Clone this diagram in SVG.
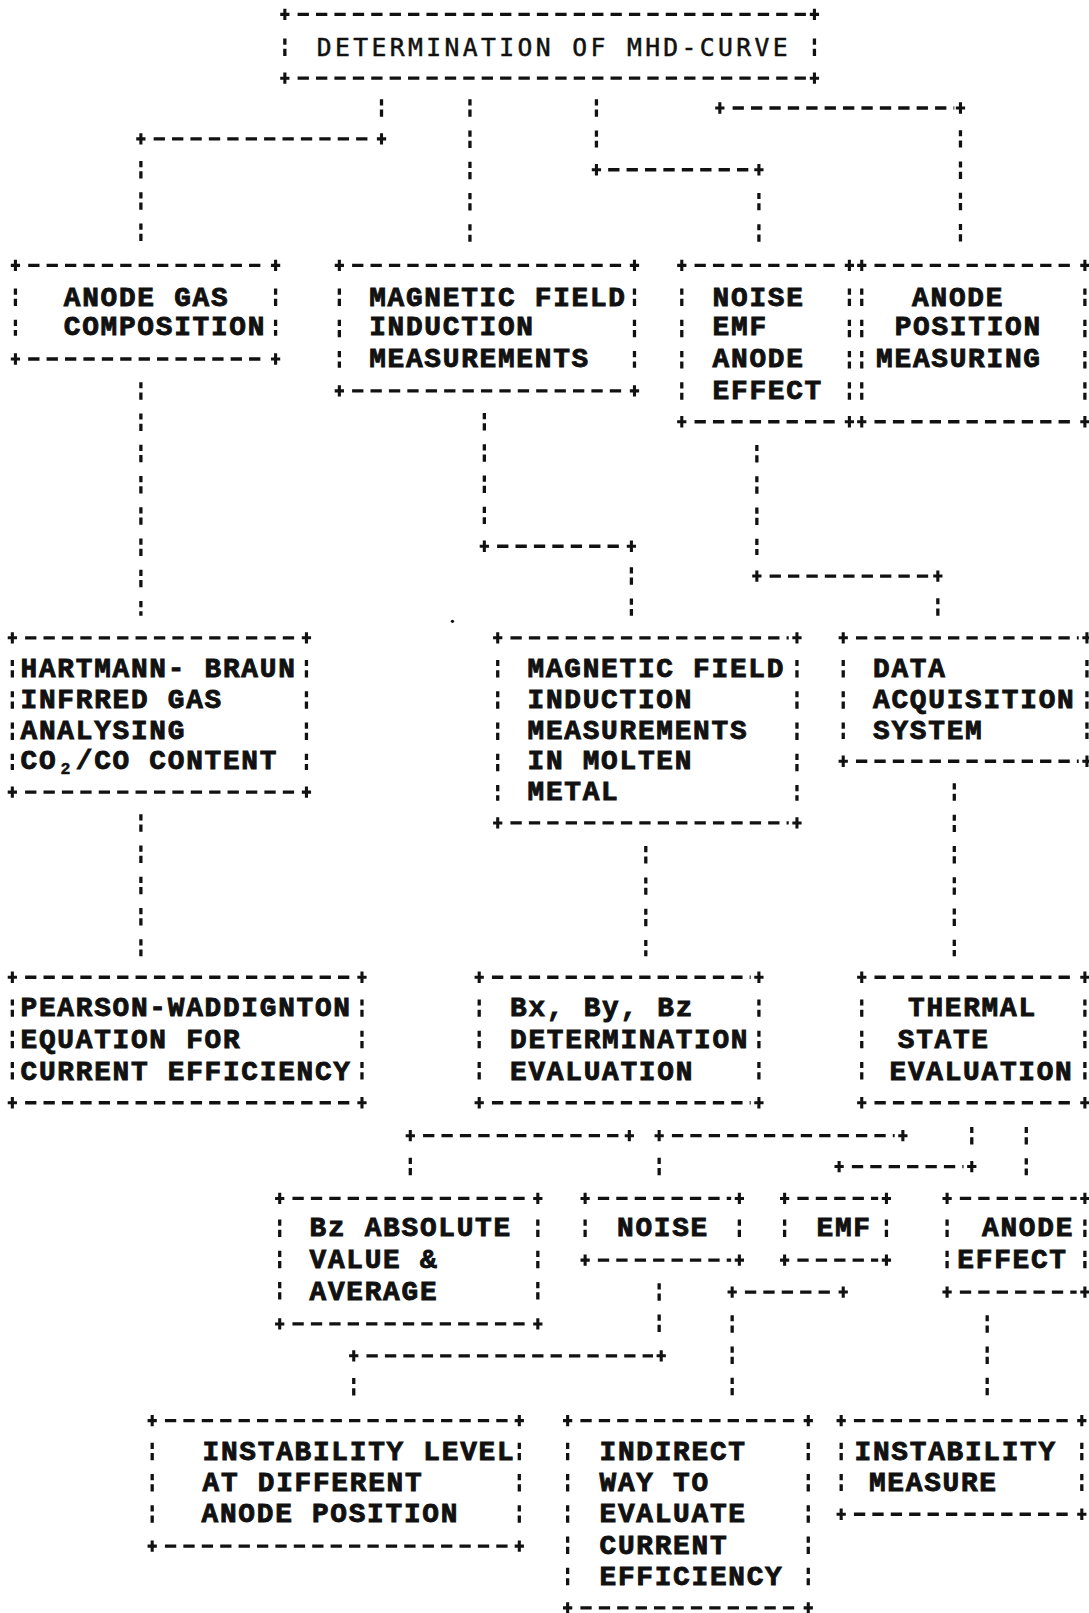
<svg xmlns="http://www.w3.org/2000/svg" xmlns:xlink="http://www.w3.org/1999/xlink" width="1089" height="1613" viewBox="0 0 1089 1613">
<style>
.h{stroke:#111;stroke-width:3.2;stroke-dasharray:11 6.9;fill:none}
.v{stroke:#111;stroke-width:3.2;stroke-dasharray:6 4 7 13.4;fill:none}
.t{font-family:"Liberation Mono","Courier New",monospace;font-weight:bold;font-size:27px;letter-spacing:1.7px;fill:#111;stroke:#111;stroke-width:0.9}
.tt{font-family:"DejaVu Sans Mono","Liberation Mono",monospace;font-size:24px;letter-spacing:3.3px;fill:#111;stroke:#111;stroke-width:0.5}
.s{font-family:"Liberation Mono","Courier New",monospace;font-weight:bold;font-size:16px;fill:#111;stroke:#111;stroke-width:0.5}
</style>
<defs>
<path id="p" d="M-4.5,0H4.5M0,-5.5V5.5" stroke="#111" stroke-width="3" fill="none"/>
</defs>
<rect width="1089" height="1613" fill="#fff"/>
<g transform="scale(1.02833,1.0287)">

<g id="n-title">
<line class="h" x1="289.4" y1="14" x2="784" y2="14"/>
<line class="h" x1="289.4" y1="76" x2="784" y2="76"/>
<line class="v" x1="277" y1="37.5" x2="277" y2="54.5"/>
<line class="v" x1="792" y1="37.5" x2="792" y2="54.5"/>
<use href="#p" x="277" y="14"/><use href="#p" x="792" y="14"/><use href="#p" x="277" y="76"/><use href="#p" x="792" y="76"/>
<text class="tt" x="308" y="54">DETERMINATION OF MHD-CURVE</text>
</g>

<g id="n-anode-gas">
<line class="h" x1="27.4" y1="258" x2="260" y2="258"/>
<line class="h" x1="27.4" y1="349" x2="260" y2="349"/>
<line class="v" x1="15" y1="280.5" x2="15" y2="326.5"/>
<line class="v" x1="268" y1="280.5" x2="268" y2="326.5"/>
<use href="#p" x="15" y="258"/><use href="#p" x="268" y="258"/><use href="#p" x="15" y="349"/><use href="#p" x="268" y="349"/>
<text class="t" x="62" y="297">ANODE GAS</text>
<text class="t" x="62" y="326">COMPOSITION</text>
</g>

<g id="n-magnetic-field">
<line class="h" x1="342.4" y1="258" x2="609" y2="258"/>
<line class="h" x1="342.4" y1="380" x2="609" y2="380"/>
<line class="v" x1="330" y1="280.5" x2="330" y2="357.5"/>
<line class="v" x1="617" y1="280.5" x2="617" y2="357.5"/>
<use href="#p" x="330" y="258"/><use href="#p" x="617" y="258"/><use href="#p" x="330" y="380"/><use href="#p" x="617" y="380"/>
<text class="t" x="359" y="297">MAGNETIC FIELD</text>
<text class="t" x="359" y="326">INDUCTION</text>
<text class="t" x="359" y="357">MEASUREMENTS</text>
</g>

<g id="n-noise-emf">
<line class="h" x1="675.4" y1="258" x2="818" y2="258"/>
<line class="h" x1="675.4" y1="410" x2="818" y2="410"/>
<line class="v" x1="663" y1="280.5" x2="663" y2="388.5"/>
<line class="v" x1="826" y1="280.5" x2="826" y2="388.5"/>
<use href="#p" x="663" y="258"/><use href="#p" x="826" y="258"/><use href="#p" x="663" y="410"/><use href="#p" x="826" y="410"/>
<text class="t" x="693" y="297">NOISE</text>
<text class="t" x="693" y="326">EMF</text>
<text class="t" x="693" y="357">ANODE</text>
<text class="t" x="693" y="388">EFFECT</text>
</g>

<g id="n-anode-position">
<line class="h" x1="850.4" y1="258" x2="1047" y2="258"/>
<line class="h" x1="850.4" y1="410" x2="1047" y2="410"/>
<line class="v" x1="838" y1="280.5" x2="838" y2="388.5"/>
<line class="v" x1="1055" y1="280.5" x2="1055" y2="388.5"/>
<use href="#p" x="838" y="258"/><use href="#p" x="1055" y="258"/><use href="#p" x="838" y="410"/><use href="#p" x="1055" y="410"/>
<text class="t" x="887" y="297">ANODE</text>
<text class="t" x="870" y="326">POSITION</text>
<text class="t" x="852" y="357">MEASURING</text>
</g>

<g id="n-hartmann">
<line class="h" x1="24.4" y1="620" x2="290" y2="620"/>
<line class="h" x1="24.4" y1="770" x2="290" y2="770"/>
<line class="v" x1="12" y1="641.5" x2="12" y2="748.5"/>
<line class="v" x1="298" y1="641.5" x2="298" y2="748.5"/>
<use href="#p" x="12" y="620"/><use href="#p" x="298" y="620"/><use href="#p" x="12" y="770"/><use href="#p" x="298" y="770"/>
<text class="t" x="20" y="658">HARTMANN- BRAUN</text>
<text class="t" x="20" y="688">INFRRED GAS</text>
<text class="t" x="20" y="718">ANALYSING</text>
<text class="t" x="20" y="748">CO</text>
<text class="s" x="63.6" y="752" text-anchor="middle">2</text>
<text class="t" x="73.7" y="748">/CO CONTENT</text>
</g>

<g id="n-magnetic-molten">
<line class="h" x1="496.4" y1="620" x2="767" y2="620"/>
<line class="h" x1="496.4" y1="800" x2="767" y2="800"/>
<line class="v" x1="484" y1="641.5" x2="484" y2="778.5"/>
<line class="v" x1="775" y1="641.5" x2="775" y2="778.5"/>
<use href="#p" x="484" y="620"/><use href="#p" x="775" y="620"/><use href="#p" x="484" y="800"/><use href="#p" x="775" y="800"/>
<text class="t" x="513" y="658">MAGNETIC FIELD</text>
<text class="t" x="513" y="688">INDUCTION</text>
<text class="t" x="513" y="718">MEASUREMENTS</text>
<text class="t" x="513" y="748">IN MOLTEN</text>
<text class="t" x="513" y="778">METAL</text>
</g>

<g id="n-data-acquisition">
<line class="h" x1="832.4" y1="620" x2="1049" y2="620"/>
<line class="h" x1="832.4" y1="740" x2="1049" y2="740"/>
<line class="v" x1="820" y1="641.5" x2="820" y2="718.5"/>
<line class="v" x1="1057" y1="641.5" x2="1057" y2="718.5"/>
<use href="#p" x="820" y="620"/><use href="#p" x="1057" y="620"/><use href="#p" x="820" y="740"/><use href="#p" x="1057" y="740"/>
<text class="t" x="849" y="658">DATA</text>
<text class="t" x="849" y="688">ACQUISITION</text>
<text class="t" x="849" y="718">SYSTEM</text>
</g>

<g id="n-pearson">
<line class="h" x1="24.4" y1="950" x2="344" y2="950"/>
<line class="h" x1="24.4" y1="1072" x2="344" y2="1072"/>
<line class="v" x1="12" y1="971.5" x2="12" y2="1050.5"/>
<line class="v" x1="352" y1="971.5" x2="352" y2="1050.5"/>
<use href="#p" x="12" y="950"/><use href="#p" x="352" y="950"/><use href="#p" x="12" y="1072"/><use href="#p" x="352" y="1072"/>
<text class="t" x="20" y="988">PEARSON-WADDIGNTON</text>
<text class="t" x="20" y="1019">EQUATION FOR</text>
<text class="t" x="20" y="1050">CURRENT EFFICIENCY</text>
</g>

<g id="n-bxbybz">
<line class="h" x1="478.4" y1="950" x2="730" y2="950"/>
<line class="h" x1="478.4" y1="1072" x2="730" y2="1072"/>
<line class="v" x1="466" y1="971.5" x2="466" y2="1050.5"/>
<line class="v" x1="738" y1="971.5" x2="738" y2="1050.5"/>
<use href="#p" x="466" y="950"/><use href="#p" x="738" y="950"/><use href="#p" x="466" y="1072"/><use href="#p" x="738" y="1072"/>
<text class="t" x="496" y="988">Bx, By, Bz</text>
<text class="t" x="496" y="1019">DETERMINATION</text>
<text class="t" x="496" y="1050">EVALUATION</text>
</g>

<g id="n-thermal">
<line class="h" x1="850.4" y1="950" x2="1047" y2="950"/>
<line class="h" x1="850.4" y1="1072" x2="1047" y2="1072"/>
<line class="v" x1="838" y1="971.5" x2="838" y2="1050.5"/>
<line class="v" x1="1055" y1="971.5" x2="1055" y2="1050.5"/>
<use href="#p" x="838" y="950"/><use href="#p" x="1055" y="950"/><use href="#p" x="838" y="1072"/><use href="#p" x="1055" y="1072"/>
<text class="t" x="883" y="988">THERMAL</text>
<text class="t" x="873" y="1019">STATE</text>
<text class="t" x="865" y="1050">EVALUATION</text>
</g>

<g id="n-bz-absolute">
<line class="h" x1="284.4" y1="1165" x2="515" y2="1165"/>
<line class="h" x1="284.4" y1="1287" x2="515" y2="1287"/>
<line class="v" x1="272" y1="1185.5" x2="272" y2="1264.5"/>
<line class="v" x1="523" y1="1185.5" x2="523" y2="1264.5"/>
<use href="#p" x="272" y="1165"/><use href="#p" x="523" y="1165"/><use href="#p" x="272" y="1287"/><use href="#p" x="523" y="1287"/>
<text class="t" x="301" y="1202">Bz ABSOLUTE</text>
<text class="t" x="301" y="1233">VALUE &amp;</text>
<text class="t" x="301" y="1264">AVERAGE</text>
</g>

<g id="n-noise">
<line class="h" x1="581.4" y1="1165" x2="711" y2="1165"/>
<line class="h" x1="581.4" y1="1225" x2="711" y2="1225"/>
<line class="v" x1="569" y1="1185.5" x2="569" y2="1202.5"/>
<line class="v" x1="719" y1="1185.5" x2="719" y2="1202.5"/>
<use href="#p" x="569" y="1165"/><use href="#p" x="719" y="1165"/><use href="#p" x="569" y="1225"/><use href="#p" x="719" y="1225"/>
<text class="t" x="600" y="1202">NOISE</text>
</g>

<g id="n-emf">
<line class="h" x1="775.4" y1="1165" x2="854" y2="1165"/>
<line class="h" x1="775.4" y1="1225" x2="854" y2="1225"/>
<line class="v" x1="763" y1="1185.5" x2="763" y2="1202.5"/>
<line class="v" x1="862" y1="1185.5" x2="862" y2="1202.5"/>
<use href="#p" x="763" y="1165"/><use href="#p" x="862" y="1165"/><use href="#p" x="763" y="1225"/><use href="#p" x="862" y="1225"/>
<text class="t" x="794" y="1202">EMF</text>
</g>

<g id="n-anode-effect">
<line class="h" x1="933.4" y1="1165" x2="1047" y2="1165"/>
<line class="h" x1="933.4" y1="1256" x2="1047" y2="1256"/>
<line class="v" x1="921" y1="1185.5" x2="921" y2="1233.5"/>
<line class="v" x1="1055" y1="1185.5" x2="1055" y2="1233.5"/>
<use href="#p" x="921" y="1165"/><use href="#p" x="1055" y="1165"/><use href="#p" x="921" y="1256"/><use href="#p" x="1055" y="1256"/>
<text class="t" x="955" y="1202">ANODE</text>
<text class="t" x="931" y="1233">EFFECT</text>
</g>

<g id="n-instability-level">
<line class="h" x1="160.4" y1="1381" x2="497" y2="1381"/>
<line class="h" x1="160.4" y1="1503" x2="497" y2="1503"/>
<line class="v" x1="148" y1="1402.5" x2="148" y2="1480.5"/>
<line class="v" x1="505" y1="1402.5" x2="505" y2="1480.5"/>
<use href="#p" x="148" y="1381"/><use href="#p" x="505" y="1381"/><use href="#p" x="148" y="1503"/><use href="#p" x="505" y="1503"/>
<text class="t" x="197" y="1419">INSTABILITY LEVEL</text>
<text class="t" x="197" y="1449">AT DIFFERENT</text>
<text class="t" x="196" y="1480">ANODE POSITION</text>
</g>

<g id="n-indirect">
<line class="h" x1="564.4" y1="1381" x2="778" y2="1381"/>
<line class="h" x1="564.4" y1="1563" x2="778" y2="1563"/>
<line class="v" x1="552" y1="1402.5" x2="552" y2="1541.5"/>
<line class="v" x1="786" y1="1402.5" x2="786" y2="1541.5"/>
<use href="#p" x="552" y="1381"/><use href="#p" x="786" y="1381"/><use href="#p" x="552" y="1563"/><use href="#p" x="786" y="1563"/>
<text class="t" x="583" y="1419">INDIRECT</text>
<text class="t" x="583" y="1449">WAY TO</text>
<text class="t" x="583" y="1480">EVALUATE</text>
<text class="t" x="583" y="1511">CURRENT</text>
<text class="t" x="583" y="1541">EFFICIENCY</text>
</g>

<g id="n-instability-measure">
<line class="h" x1="830.4" y1="1381" x2="1044" y2="1381"/>
<line class="h" x1="830.4" y1="1472" x2="1044" y2="1472"/>
<line class="v" x1="818" y1="1402.5" x2="818" y2="1449.5"/>
<line class="v" x1="1052" y1="1402.5" x2="1052" y2="1449.5"/>
<use href="#p" x="818" y="1381"/><use href="#p" x="1052" y="1381"/><use href="#p" x="818" y="1472"/><use href="#p" x="1052" y="1472"/>
<text class="t" x="831" y="1419">INSTABILITY</text>
<text class="t" x="845" y="1449">MEASURE</text>
</g>

<g id="connectors">
<line class="v" x1="371" y1="96.5" x2="371" y2="113.5"/>
<line class="h" x1="149.4" y1="135" x2="363" y2="135"/>
<use href="#p" x="137" y="135"/><use href="#p" x="371" y="135"/>
<line class="v" x1="137" y1="156.5" x2="137" y2="235.5"/>

<line class="v" x1="457" y1="96.5" x2="457" y2="235.5"/>

<line class="v" x1="580" y1="96.5" x2="580" y2="143.5"/>
<line class="h" x1="591.4" y1="165" x2="730" y2="165"/>
<use href="#p" x="580" y="165"/><use href="#p" x="738" y="165"/>
<line class="v" x1="738" y1="187.5" x2="738" y2="235.5"/>

<line class="h" x1="712.4" y1="105" x2="928" y2="105"/>
<use href="#p" x="700" y="105"/><use href="#p" x="934" y="105"/>
<line class="v" x1="934" y1="126.5" x2="934" y2="235.5"/>

<line class="v" x1="137" y1="371.5" x2="137" y2="598.5"/>

<line class="v" x1="471" y1="401.5" x2="471" y2="509.5"/>
<line class="h" x1="483.4" y1="531" x2="607" y2="531"/>
<use href="#p" x="471" y="531"/><use href="#p" x="614" y="531"/>
<line class="v" x1="614" y1="551.5" x2="614" y2="598.5"/>

<line class="v" x1="736" y1="432.5" x2="736" y2="539.5"/>
<line class="h" x1="748.4" y1="560" x2="904" y2="560"/>
<use href="#p" x="736" y="560"/><use href="#p" x="912" y="560"/>
<line class="v" x1="912" y1="581.5" x2="912" y2="598.5"/>

<line class="v" x1="137" y1="791.5" x2="137" y2="929.5"/>
<line class="v" x1="628" y1="822.5" x2="628" y2="929.5"/>
<line class="v" x1="928" y1="761.5" x2="928" y2="929.5"/>

<line class="h" x1="411.4" y1="1104" x2="604" y2="1104"/>
<use href="#p" x="399" y="1104"/><use href="#p" x="612" y="1104"/>
<line class="h" x1="653.4" y1="1104" x2="870" y2="1104"/>
<use href="#p" x="641" y="1104"/><use href="#p" x="878" y="1104"/>
<line class="v" x1="399" y1="1125.5" x2="399" y2="1142.5"/>
<line class="v" x1="641" y1="1125.5" x2="641" y2="1142.5"/>

<line class="v" x1="945" y1="1095.5" x2="945" y2="1112.5"/>
<line class="h" x1="828.4" y1="1134" x2="937" y2="1134"/>
<use href="#p" x="816" y="1134"/><use href="#p" x="945" y="1134"/>
<line class="v" x1="998" y1="1095.5" x2="998" y2="1142.5"/>

<line class="v" x1="641" y1="1247.5" x2="641" y2="1295.5"/>
<line class="h" x1="356.4" y1="1318" x2="635" y2="1318"/>
<use href="#p" x="344" y="1318"/><use href="#p" x="643" y="1318"/>
<line class="v" x1="344" y1="1339.5" x2="344" y2="1356.5"/>

<line class="h" x1="724.4" y1="1256" x2="812" y2="1256"/>
<use href="#p" x="712" y="1256"/><use href="#p" x="820" y="1256"/>
<line class="v" x1="712" y1="1278.5" x2="712" y2="1356.5"/>

<line class="v" x1="960" y1="1278.5" x2="960" y2="1356.5"/>
</g>

<circle cx="440" cy="604" r="1.6" fill="#111"/>
</g>
</svg>
